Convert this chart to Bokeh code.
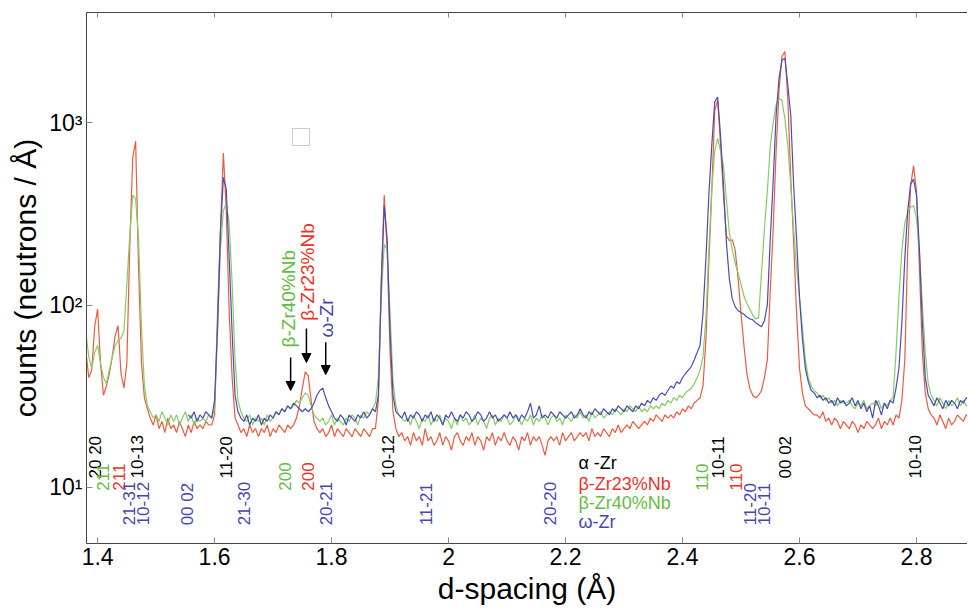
import numpy as np
from bokeh.plotting import figure
from bokeh.models import (Range1d, FixedTicker, Legend, LegendItem, Arrow,
                          NormalHead, LinearAxis, ColumnDataSource)
from bokeh.core.properties import value
from bokeh.embed import file_html
from bokeh.resources import INLINE

# ---------------- data ----------------
D_START = 1.380          # first d-spacing sample (Å) for Extruded / Cold-rolled
D_STEP = 0.005           # sampling step (Å)
BLUE_START = 1.555       # Heat-treated data starts here

extruded = [
    55, 40, 44, 76, 95, 48, 32, 36, 42, 52,
    68, 77, 42, 35, 48, 210, 640, 790, 160, 48,
    31, 27, 24, 22, 25, 21, 23, 20, 24, 21,
    22, 20, 23, 21, 19, 22, 20, 23, 21, 22,
    21, 23, 22, 22, 25, 90, 260, 680, 330, 90,
    40, 24, 22, 20, 21, 19, 22, 20, 21, 19,
    21, 20, 22, 19, 21, 20, 22, 21, 20, 22,
    21, 22, 24, 28, 35, 43, 41, 30, 23, 21,
    20, 21, 19, 20, 22, 19, 21, 20, 19, 21,
    20, 19, 21, 20, 19, 21, 20, 19, 21, 21,
    30, 140, 400, 200, 55, 26, 21, 19, 20, 18,
    19, 17, 20, 18, 19, 17, 21, 18, 19, 17,
    18, 20, 17, 19, 18, 16, 19, 20, 18, 17,
    19, 18, 20, 17, 19, 18, 16, 19, 18, 20,
    17, 19, 18, 20, 18, 17, 19, 18, 16, 19,
    18, 20, 17, 19, 18, 19, 17, 15, 18, 19,
    18, 19, 17, 20, 18, 19, 20, 18, 19, 20,
    19, 20, 18, 21, 19, 20, 19, 21, 20, 19,
    21, 20, 22, 20, 21, 22, 21, 23, 22, 21,
    22, 23, 22, 24, 23, 25, 24, 23, 25, 24,
    25, 24, 26, 25, 27, 26, 28, 27, 29, 30,
    31, 36, 65, 170, 420, 1150, 1330, 750, 400, 240,
    225, 228, 200, 140, 90, 60, 42, 35, 32, 31,
    32, 34, 40, 50, 120, 260, 700, 1500, 2300, 2450,
    1350, 500, 220, 90, 45, 33, 28, 27, 26, 25,
    25, 24, 26, 23, 24, 22, 24, 23, 21, 23,
    22, 21, 23, 22, 20, 22, 21, 23, 22, 21,
    22, 24, 21, 23, 22, 24, 22, 25, 24, 30,
    50, 200, 450, 580, 420, 160, 55, 33, 27, 25,
    24, 22, 25, 23, 21, 24, 22, 23, 25, 24,
    23, 25, 24,
]

cold_rolled = [
    70, 52, 45, 55, 60, 48, 40, 37, 44, 52,
    60, 64, 66, 72, 130, 240, 400, 380, 230, 75,
    36, 28, 26, 24, 25, 23, 26, 24, 22, 25,
    23, 25, 22, 24, 26, 23, 25, 22, 24, 23,
    24, 23, 25, 24, 27, 70, 200, 330, 360, 280,
    130, 50, 30, 26, 24, 23, 25, 22, 24, 23,
    24, 22, 25, 23, 24, 26, 25, 27, 26, 28,
    27, 28, 30, 29, 31, 33, 32, 28, 25, 24,
    23, 24, 22, 23, 25, 22, 24, 23, 22, 24,
    23, 25, 24, 22, 25, 24, 26, 25, 27, 29,
    40, 110, 215, 200, 90, 38, 28, 25, 24, 23,
    24, 22, 25, 23, 21, 24, 23, 25, 22, 24,
    23, 25, 22, 24, 23, 21, 24, 22, 25, 23,
    24, 22, 23, 25, 22, 24, 23, 21, 24, 25,
    22, 24, 23, 25, 24, 22, 23, 25, 24, 22,
    24, 23, 25, 22, 24, 23, 25, 24, 22, 24,
    25, 23, 24, 22, 25, 24, 23, 25, 24, 26,
    24, 25, 23, 26, 24, 25, 26, 24, 25, 26,
    25, 27, 26, 25, 27, 26, 28, 27, 26, 28,
    26, 27, 26, 28, 27, 28, 27, 29, 28, 30,
    29, 31, 30, 32, 31, 33, 34, 35, 37, 40,
    44, 52, 85, 200, 430, 700, 820, 700, 580, 380,
    250, 200, 170, 150, 130, 112, 102, 95, 88, 84,
    85, 150, 260, 420, 740, 1000, 1250, 1350, 1320, 1050,
    750, 450, 260, 160, 110, 75, 50, 40, 36, 34,
    33, 31, 32, 30, 31, 29, 30, 28, 30, 29,
    29, 30, 28, 27, 29, 28, 30, 27, 28, 29,
    28, 30, 27, 29, 28, 30, 31, 55, 110, 200,
    280, 320, 345, 350, 300, 200, 100, 55, 37, 32,
    30, 28, 31, 29, 27, 30, 28, 29, 31, 28,
    30, 28, 29,
]

heat_treated = [
    25, 24, 26, 23, 25, 24, 26, 25, 24, 30,
    75, 250, 500, 430, 180, 70, 32, 26, 24, 23,
    25, 22, 24, 23, 25, 22, 24, 23, 25, 24,
    26, 25, 27, 26, 28, 27, 29, 28, 27, 26,
    27, 26, 27, 29, 32, 34, 35, 31, 28, 26,
    24, 23, 25, 24, 22, 25, 24, 23, 25, 24,
    26, 24, 25, 27, 26, 32, 130, 350, 230, 70,
    32, 26, 25, 24, 26, 23, 25, 24, 26, 25,
    23, 25, 24, 26, 23, 25, 24, 22, 25, 24,
    26, 24, 23, 25, 24, 26, 25, 23, 24, 26,
    25, 23, 24, 26, 24, 25, 23, 24, 25, 24,
    26, 24, 25, 23, 25, 24, 26, 29, 24, 25,
    28, 24, 25, 24, 26, 25, 24, 26, 25, 24,
    25, 26, 24, 25, 27, 25, 24, 26, 25, 27,
    26, 25, 27, 26, 25, 27, 26, 28, 27, 26,
    28, 27, 26, 28, 27, 29, 28, 30, 29, 31,
    30, 32, 33, 32, 34, 36, 35, 38, 37, 40,
    42, 44, 46, 50, 55, 60, 90, 180, 400, 750,
    1300, 1380, 850, 450, 220, 140, 108, 98, 93, 91,
    89, 86, 84, 83, 80, 78, 76, 82, 100, 230,
    480, 1100, 1750, 2200, 2250, 1600, 1100, 450, 230, 110,
    65, 45, 38, 34, 33, 31, 32, 30, 31, 29,
    30, 28, 31, 29, 30, 28, 29, 31, 28, 30,
    27, 29, 26, 28, 24, 30, 28, 25, 29, 27,
    30, 29, 35, 45, 80, 180, 330, 460, 490, 400,
    200, 80, 40, 32, 30, 28, 31, 29, 27, 30,
    28, 30, 29, 27, 30, 29, 31, 30,
]

series_names = ["Extruded", "Cold-rolled", "Heat-treated"]

x_ticks = [1.4, 1.6, 1.8, 2.0, 2.2, 2.4, 2.6, 2.8]
x_tick_labels = ["1.4", "1.6", "1.8", "2", "2.2", "2.4", "2.6", "2.8"]
y_ticks = [10, 100, 1000]
y_tick_labels = ["10\u00b9", "10\u00b2", "10\u00b3"]

# reflection labels (d-spacing, Å)
alpha_labels = ["20 20", "10-13", "11-20", "10-12", "10-11", "00 02", "10-10"]
alpha_d = [1.3966, 1.468, 1.619, 1.897, 2.460, 2.576, 2.798]
beta23_labels = ["211", "200", "110"]
beta23_d = [1.436, 1.759, 2.491]
beta40_labels = ["211", "200", "110"]
beta40_d = [1.4085, 1.721, 2.434]
omega_labels = ["21-31", "10-12", "00 02", "21-30", "20-21", "11-21", "20-20", "11-20", "10-11"]
omega_d = [1.453, 1.477, 1.554, 1.650, 1.790, 1.961, 2.174, 2.516, 2.539]

phase_names = ["\u03b1 -Zr", "\u03b2-Zr23%Nb", "\u03b2-Zr40%Nb", "\u03c9-Zr"]
arrow_names = ["\u03b2-Zr40%Nb", "\u03b2-Zr23%Nb", "\u03c9-Zr"]
arrow_d = [1.730, 1.757, 1.790]

assert len(extruded) == 303 and len(cold_rolled) == 303 and len(heat_treated) == 268

d_all = np.round(D_START + D_STEP * np.arange(len(extruded)), 4)
d_blue = np.round(BLUE_START + D_STEP * np.arange(len(heat_treated)), 4)

# ---------------- style ----------------
RED = "#EC5A42"
GREEN = "#86CC64"
BLUE = "#4A4CB2"
RED_T = "#E8352A"
GREEN_T = "#66BB44"
BLUE_T = "#4747A8"
FONT = "Liberation Sans"

p = figure(width=967, height=607, output_backend="svg", toolbar_location=None,
           x_range=Range1d(1.381, 2.8872), y_range=Range1d(4.93, 4010),
           y_axis_type="log", min_border_left=86, min_border_right=0,
           min_border_top=12, min_border_bottom=64)
p.outline_line_color = None
p.grid.visible = False
p.background_fill_color = "white"
p.border_fill_color = "white"

p.line(d_all, extruded, line_color=RED, line_width=1.2)
p.line(d_all, cold_rolled, line_color=GREEN, line_width=1.2)
p.line(d_blue, heat_treated, line_color=BLUE, line_width=1.2)

# legend keys: empty segment renderers carrying each series' colour
key_colors = [RED, GREEN, BLUE]
key_renderers = []
for c in key_colors:
    src = ColumnDataSource(data=dict(x0=[], y0=[], x1=[], y1=[]))
    key_renderers.append(p.segment(x0="x0", y0="y0", x1="x1", y1="y1", source=src,
                                   line_color=c, line_width=1.2))

# axes
xa = p.xaxis[0]
xa.ticker = FixedTicker(ticks=x_ticks, minor_ticks=[])
xa.major_label_overrides = dict(zip(x_ticks, x_tick_labels))
xa.axis_label = "d-spacing (\u00c5)"
ya = p.yaxis[0]
ya.ticker = FixedTicker(ticks=y_ticks, minor_ticks=[])
ya.major_label_overrides = dict(zip(y_ticks, y_tick_labels))
ya.axis_label = "counts (neutrons / \u00c5)"
for ax in (xa, ya):
    ax.axis_line_color = "#444444"
    ax.major_tick_in = 6
    ax.major_tick_out = 0
    ax.major_tick_line_color = "#888888"
    ax.minor_tick_line_color = None
    ax.major_label_text_font = FONT
    ax.major_label_text_font_size = "23px"
    ax.major_label_text_color = "black"
    ax.axis_label_text_font = FONT
    ax.axis_label_text_font_size = "30px"
    ax.axis_label_text_font_style = "normal"
    ax.axis_label_text_color = "black"
    ax.major_label_standoff = 4
    ax.axis_label_standoff = 4

# top frame line with inward ticks, labels not drawn
top = LinearAxis(ticker=FixedTicker(ticks=x_ticks, minor_ticks=[]),
                 major_label_text_color=None, major_label_text_font_size="6px",
                 major_label_standoff=0, major_tick_in=5, major_tick_out=0,
                 axis_line_color="#444444", major_tick_line_color="#888888",
                 minor_tick_line_color=None)
p.add_layout(top, "above")

# reflection labels (rotated)
def rot_labels(ds, labels, y, color):
    p.text(x=ds, y=[y] * len(ds), text=labels, angle=np.pi / 2,
           text_align="left", text_baseline="middle",
           text_font=value(FONT), text_font_size=value("17px"),
           text_color=color)

rot_labels(alpha_d, alpha_labels, 11.2, "black")
rot_labels(beta23_d, beta23_labels, 9.6, RED_T)
rot_labels(beta40_d, beta40_labels, 9.6, GREEN_T)
rot_labels(omega_d, omega_labels, 6.2, BLUE_T)

# phase key
p.text(x=[2.222] * 4, y=[13.7, 10.5, 8.17, 6.43], text=phase_names,
       text_align="left", text_baseline="middle",
       text_font=value(FONT), text_font_size=value("18px"),
       text_color=["black", RED_T, GREEN_T, BLUE_T])

# arrows and their labels
arrow_top = [51.5, 74.3, 62.4]
arrow_bot = [34.0, 48.4, 41.6]
for xd, y0, y1 in zip(arrow_d, arrow_top, arrow_bot):
    p.add_layout(Arrow(end=NormalHead(size=9, fill_color="black", line_color="black"),
                       x_start=xd, y_start=y0, x_end=xd, y_end=y1,
                       line_color="black", line_width=1.5))
p.text(x=[1.7265, 1.759, 1.791], y=[58.5, 82.0, 66.4], text=arrow_names,
       angle=np.pi / 2, text_align="left", text_baseline="middle",
       text_font=value(FONT), text_font_size=value("19px"),
       text_color=[GREEN_T, RED_T, BLUE_T])

# legend
legend = Legend(items=[LegendItem(label=n, renderers=[r], index=0)
                       for n, r in zip(series_names, key_renderers)],
                location=(206, 397))
legend.label_text_font = FONT
legend.label_text_font_size = "21px"
legend.glyph_width = 62
legend.glyph_height = 24
legend.label_height = 24
legend.label_standoff = 7
legend.spacing = 4
legend.padding = 8
legend.margin = 0
legend.border_line_color = "#999999"
legend.border_line_width = 1
p.add_layout(legend)

open("out.html", "w").write(file_html(p, INLINE))
